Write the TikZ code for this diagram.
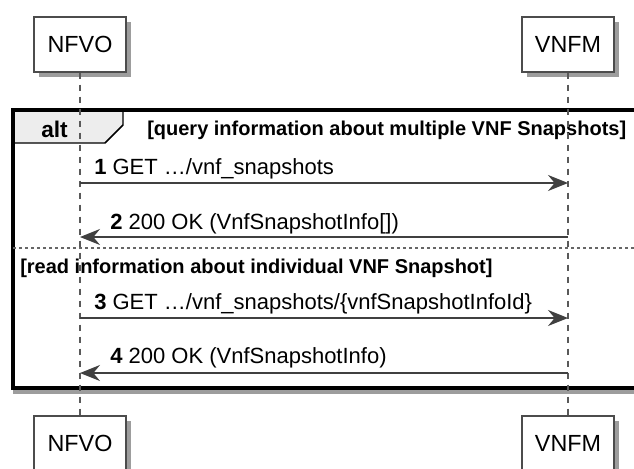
\documentclass[tikz,border=0pt]{standalone}
\usepackage{fontspec}
\setmainfont{Liberation Sans}
\usetikzlibrary{arrows.meta,shadows}

\begin{document}
\begin{tikzpicture}[x=0.75pt,y=-0.75pt,
  actor/.style={draw=black!70,line width=1.1pt,fill=white,minimum width=69pt,
    minimum height=41pt,inner sep=0pt,font=\fontsize{17.5}{20}\selectfont,
    drop shadow={shadow xshift=3.5pt,shadow yshift=-3.5pt,fill=black!55,opacity=0.7}},
  lifeline/.style={draw=black!65,line width=0.9pt,dash pattern=on 5pt off 4pt},
  msg/.style={draw=black!75,line width=1pt,-{Stealth[length=15pt,width=12pt,inset=5pt]}},
  msgtext/.style={anchor=base west,inner sep=0pt,font=\fontsize{16.5}{19}\selectfont},
  guard/.style={anchor=base west,inner sep=0pt,font=\bfseries\fontsize{15}{18}\selectfont}]
  \useasboundingbox (0,0) rectangle (634,468);
  \clip (0,0) rectangle (634,468);

  % alt frame
  \fill[white,drop shadow={shadow xshift=0pt,shadow yshift=-4.5pt,fill=black!55,opacity=0.7}]
    (13,110) rectangle (660,388);
  \draw[fill=black!7,line width=1.1pt] (13,110) -- (123,110) -- (123,125) -- (105,143) -- (13,143);
  \draw[line width=2.4pt] (13,110) rectangle (660,388);
  \draw[black!60,line width=0.9pt,dash pattern=on 2.5pt off 2pt] (13,248) -- (660,248);
  \node[anchor=base west,inner sep=0pt,font=\bfseries\fontsize{17}{20}\selectfont] (alt) at (41,137) {alt};
  \node[guard] (g1) at (147,135) {[query information about multiple VNF Snapshots]};
  \node[guard] (g2) at (20,273) {[read information about individual VNF Snapshot]};

  % participants
  \node[actor] (nfvo) at (80,44.5) {NFVO};
  \node[actor] (vnfm) at (568,44.5) {VNFM};
  \node[actor] (nfvoB) at (80,443.5) {NFVO};
  \node[actor] (vnfmB) at (568,443.5) {VNFM};
  \draw[lifeline] (nfvo) -- (nfvoB);
  \draw[lifeline] (vnfm) -- (vnfmB);

  % messages
  \coordinate (n1) at (80,183);  \coordinate (v1) at (568,183);
  \coordinate (n2) at (80,237);  \coordinate (v2) at (568,237);
  \coordinate (n3) at (80,318);  \coordinate (v3) at (568,318);
  \coordinate (n4) at (80,373);  \coordinate (v4) at (568,373);
  \draw[msg] (n1) -- (v1);
  \draw[msg] (v2) -- (n2);
  \draw[msg] (n3) -- (v3);
  \draw[msg] (v4) -- (n4);
  \node[msgtext] (t1) at (94,174) {\textbf{1} GET …/vnf\_snapshots};
  \node[msgtext] (t2) at (110,229) {\textbf{2} 200 OK (VnfSnapshotInfo[])};
  \node[msgtext] (t3) at (94,309) {\textbf{3} GET …/vnf\_snapshots/\{vnfSnapshotInfoId\}};
  \node[msgtext] (t4) at (110,363) {\textbf{4} 200 OK (VnfSnapshotInfo)};
\end{tikzpicture}
\end{document}
